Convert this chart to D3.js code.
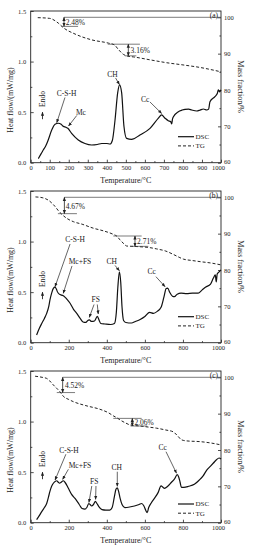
<!DOCTYPE html>
<html>
<head>
<meta charset="utf-8">
<script src="https://cdn.jsdelivr.net/npm/d3@7"></script>
<style>
body { margin: 0; background: #fff; }
svg text { font-family: "Liberation Serif", "Times New Roman", serif; fill: #222; }
</style>
</head>
<body>
<div id="chart"></div>
<script>
// ---- data ----
// tick values
var xTicksA = [0, 100, 200, 300, 400, 500, 600, 700, 800, 900, 1000];
var xTicksBC = [0, 200, 400, 600, 800, 1000];
var heatTicks = [0, 0.5, 1.0, 1.5];
var massTicks = [60, 70, 80, 90, 100];

// panel (a): [temperature, value]
var tgA = [[37,99.9],[100,99.7],[145,98.4],[170,97.2],[233,95.4],[320,93.8],[408,92.9],[440,92.4],[460,91.2],[487,89.8],[510,89.3],[540,89.1],[627,88.3],[715,87.5],[800,86.9],[890,86.2],[1000,85.0]];
var dscA = [[40,0.04],[55,0.09],[66,0.125],[80,0.17],[92,0.225],[110,0.32],[128,0.38],[145,0.39],[160,0.38],[171,0.36],[185,0.35],[195,0.34],[215,0.29],[250,0.225],[285,0.19],[320,0.175],[350,0.18],[373,0.19],[400,0.19],[417,0.185],[429,0.22],[443,0.42],[457,0.69],[467,0.77],[478,0.69],[490,0.36],[504,0.24],[530,0.23],[574,0.274],[627,0.34],[671,0.44],[688,0.472],[706,0.44],[723,0.415],[736,0.405],[741,0.383],[745,0.43],[750,0.455],[776,0.505],[795,0.52],[811,0.528],[830,0.53],[846,0.521],[872,0.511],[890,0.52],[907,0.531],[925,0.521],[935,0.53],[942,0.603],[968,0.653],[981,0.686],[986,0.72],[992,0.70],[1000,0.72]];

// panel (b)
var tgB = [[25,100.1],[60,99.9],[93,99.2],[119,98.0],[154,95.8],[190,94.2],[224,93.3],[270,92.6],[329,91.5],[380,90.8],[434,89.8],[455,89.2],[469,88.3],[490,87.2],[504,86.6],[540,86.5],[574,86.4],[620,86.2],[662,85.8],[710,85.2],[749,84.3],[780,83.5],[802,83.0],[850,82.6],[890,82.3],[950,81.9],[1000,81.4]];
var dscB = [[31,0.076],[45,0.14],[58,0.19],[72,0.24],[84,0.29],[95,0.36],[101,0.42],[110,0.49],[119,0.538],[128,0.55],[135,0.53],[140,0.505],[150,0.48],[163,0.47],[175,0.46],[190,0.43],[207,0.39],[225,0.33],[242,0.29],[260,0.24],[275,0.205],[290,0.2],[300,0.22],[308,0.225],[320,0.21],[335,0.215],[350,0.26],[360,0.22],[368,0.19],[390,0.185],[420,0.18],[440,0.19],[450,0.3],[458,0.55],[466,0.70],[473,0.6],[480,0.35],[488,0.22],[500,0.2],[530,0.195],[550,0.21],[575,0.23],[600,0.26],[625,0.30],[645,0.29],[665,0.31],[685,0.35],[700,0.45],[712,0.535],[720,0.54],[730,0.5],[745,0.46],[755,0.455],[770,0.48],[790,0.49],[820,0.485],[850,0.49],[880,0.49],[900,0.52],[920,0.55],[945,0.58],[960,0.64],[970,0.67],[975,0.60],[980,0.68],[990,0.7],[1000,0.72]];

// panel (c)
var tgC = [[23,100.3],[60,100.0],[84,99.7],[100,99.0],[119,97.9],[140,96.8],[154,96.0],[171,94.8],[200,93.9],[224,93.3],[290,92.2],[364,91.2],[410,90.2],[434,89.4],[455,88.8],[469,88.3],[500,87.4],[522,86.9],[574,86.6],[620,86.3],[662,86.0],[710,85.5],[749,85.0],[770,84.0],[793,82.8],[820,82.5],[890,82.3],[950,81.9],[1000,81.4]];
var dscC = [[31,0.03],[45,0.07],[58,0.11],[72,0.15],[84,0.19],[93,0.25],[101,0.31],[110,0.36],[119,0.39],[130,0.41],[137,0.415],[145,0.40],[152,0.39],[160,0.40],[171,0.415],[180,0.40],[198,0.34],[215,0.28],[233,0.24],[255,0.18],[270,0.14],[285,0.135],[295,0.15],[305,0.19],[312,0.18],[320,0.165],[330,0.18],[340,0.21],[348,0.19],[358,0.16],[375,0.13],[395,0.125],[415,0.125],[428,0.15],[440,0.26],[448,0.33],[455,0.345],[462,0.31],[470,0.24],[480,0.18],[495,0.15],[520,0.155],[545,0.165],[570,0.18],[583,0.19],[595,0.165],[605,0.12],[612,0.10],[620,0.15],[635,0.20],[650,0.24],[670,0.30],[685,0.365],[695,0.35],[703,0.34],[720,0.36],[740,0.40],[755,0.43],[770,0.475],[778,0.45],[785,0.40],[792,0.35],[805,0.35],[830,0.36],[860,0.38],[885,0.42],[905,0.46],[925,0.52],[945,0.56],[960,0.59],[975,0.62],[990,0.64],[1000,0.63]];

// peak labels: text, text position [T, H], arrows [[T1,H1,T2,H2],...]
var peaksA = [
    {text: "C-S-H", at: [189, 0.686], arrows: [[180, 0.645, 137, 0.396]]},
    {text: "Mc", at: [264, 0.495], arrows: [[242, 0.467, 199, 0.363]]},
    {text: "CH", at: [429, 0.877], arrows: [[446, 0.838, 466, 0.773]]},
    {text: "Cc", at: [601, 0.627], arrows: [[627, 0.60, 688, 0.487]]}
];
var peaksB = [
    {text: "C-S-H", at: [233, 1.023], arrows: [[207, 0.976, 128, 0.554]]},
    {text: "Mc+FS", at: [259, 0.80], arrows: [[217, 0.759, 171, 0.489]]},
    {text: "FS", at: [342, 0.429], arrows: [[333, 0.378, 308, 0.251], [350, 0.378, 355, 0.284]]},
    {text: "CH", at: [426, 0.808], arrows: [[443, 0.764, 466, 0.712]]},
    {text: "Cc", at: [636, 0.702], arrows: [[658, 0.653, 706, 0.554]]}
];
var peaksC = [
    {text: "C-S-H", at: [201, 0.719], arrows: [[185, 0.677, 128, 0.422]]},
    {text: "Mc+FS", at: [259, 0.568], arrows: [[198, 0.528, 168, 0.429]]},
    {text: "FS", at: [334, 0.406], arrows: [[321, 0.363, 306, 0.2], [343, 0.363, 341, 0.23]]},
    {text: "CH", at: [452, 0.548], arrows: [[455, 0.504, 455, 0.36]]},
    {text: "Cc", at: [694, 0.746], arrows: [[711, 0.702, 766, 0.49]]}
];

// mass loss steps: arrow temperature, upper/lower level, line extents, text position
var lossA = [
    {text: "2.48%", t: 175, hi: 100, lo: 97.5, hiLine: [175, 1000], loLine: [163, 249], at: [184, 98.6]},
    {text: "3.16%", t: 513, hi: 92.6, lo: 89.4, hiLine: [405, 574], loLine: [495, 555], at: [525, 90.9]}
];
var lossB = [
    {text: "4.67%", t: 177, hi: 100, lo: 95.5, hiLine: [177, 1000], loLine: [143, 243], at: [184, 97.6]},
    {text: "2.71%", t: 548, hi: 89.35, lo: 86.5, hiLine: [434, 583], loLine: [531, 618], at: [559, 87.8]}
];
var lossC = [
    {text: "4.52%", t: 168, hi: 100, lo: 95.8, hiLine: [168, 1000], loLine: [137, 233], at: [180, 97.9]},
    {text: "2.06%", t: 534, hi: 88.7, lo: 86.6, hiLine: [434, 583], loLine: [525, 612], at: [545, 87.7]}
];

// ---- layout ----
var width = 258;
var height = 550;
var left = 30.7, right = 221, plotH = 151.7;

var svg = d3.select("#chart").append("svg")
    .attr("width", width)
    .attr("height", height);

svg.append("defs").append("marker")
    .attr("id", "arr")
    .attr("viewBox", "0 0 10 10")
    .attr("refX", 9).attr("refY", 5)
    .attr("markerWidth", 4).attr("markerHeight", 4)
    .attr("markerUnits", "userSpaceOnUse")
    .attr("orient", "auto-start-reverse")
    .append("path")
    .attr("d", "M0,1L10,5L0,9Z")
    .attr("fill", "#222");

var panels = [
    {label: "(a)", top: 11, dsc: dscA, tg: tgA, xTicks: xTicksA, peaks: peaksA, loss: lossA, legend: 125.7},
    {label: "(b)", top: 191, dsc: dscB, tg: tgB, xTicks: xTicksBC, peaks: peaksB, loss: lossB, legend: 125.7},
    {label: "(c)", top: 371, dsc: dscC, tg: tgC, xTicks: xTicksBC, peaks: peaksC, loss: lossC, legend: 133}
];

function midpoints(arr) {
    var out = [];
    for (var i = 0; i < arr.length - 1; i++) out.push((arr[i] + arr[i + 1]) / 2);
    return out;
}

function styleAxis(g, size) {
    g.select(".domain").remove();
    g.selectAll("line").attr("stroke", "#222").attr("stroke-width", 0.8);
    g.selectAll("text").style("font-size", size + "px")
        .style("font-family", "'Liberation Serif', serif").attr("fill", "#222");
}

function drawPanel(p) {
    var top = p.top, bottom = p.top + plotH;
    var x = d3.scaleLinear().domain([0, 1000]).range([left, right]);
    var yL = d3.scaleLinear().domain([0, 1.5]).range([bottom, top]);
    var yR = d3.scaleLinear().domain([60, 100]).range([bottom, top + 6.3]);

    var g = svg.append("g");

    // axes with inward ticks
    g.append("g").attr("transform", "translate(0," + bottom + ")")
        .call(d3.axisBottom(x).tickValues(p.xTicks).tickFormat(d3.format("d"))
            .tickSizeInner(-3).tickSizeOuter(0).tickPadding(3))
        .call(styleAxis, 6.5)
        .selectAll(".tick text")
        .attr("dx", function(d) { return d === 1000 ? -3 : 0; }); // keep 1000 clear of the right axis label
    g.append("g").attr("transform", "translate(0," + bottom + ")")
        .call(d3.axisBottom(x).tickValues(midpoints(p.xTicks)).tickFormat("")
            .tickSizeInner(-1.6).tickSizeOuter(0))
        .call(styleAxis, 6.5);

    g.append("g").attr("transform", "translate(" + left + ",0)")
        .call(d3.axisLeft(yL).tickValues(heatTicks).tickFormat(d3.format(".1f"))
            .tickSizeInner(-3).tickSizeOuter(0).tickPadding(4.5))
        .call(styleAxis, 6.5);
    g.append("g").attr("transform", "translate(" + left + ",0)")
        .call(d3.axisLeft(yL).tickValues(midpoints(heatTicks)).tickFormat("")
            .tickSizeInner(-1.6).tickSizeOuter(0))
        .call(styleAxis, 6.5);

    g.append("g").attr("transform", "translate(" + right + ",0)")
        .call(d3.axisRight(yR).tickValues(massTicks).tickFormat(d3.format("d"))
            .tickSizeInner(-3).tickSizeOuter(0).tickPadding(3))
        .call(styleAxis, 6.5)
        .selectAll(".tick text")
        .attr("dy", function(d) { return d === 60 ? "0.1em" : "0.32em"; });
    g.append("g").attr("transform", "translate(" + right + ",0)")
        .call(d3.axisRight(yR).tickValues(midpoints(massTicks)).tickFormat("")
            .tickSizeInner(-1.6).tickSizeOuter(0))
        .call(styleAxis, 6.5);

    // frame
    g.append("rect")
        .attr("x", left).attr("y", top)
        .attr("width", right - left).attr("height", plotH)
        .attr("fill", "none").attr("stroke", "#222").attr("stroke-width", 0.9);

    // axis titles
    g.append("text")
        .attr("x", (left + right) / 2).attr("y", bottom + 20.5)
        .attr("text-anchor", "middle").style("font-size", "8px")
        .text("Temperature/\u00B0C");
    g.append("text")
        .attr("transform", "translate(13," + (top + 89) + ") rotate(-90)")
        .attr("text-anchor", "middle").style("font-size", "8px")
        .text("Heat flow/(mW/mg)");
    g.append("text")
        .attr("transform", "translate(237.5," + (top + 75.7) + ") rotate(90)")
        .attr("text-anchor", "middle").style("font-size", "8px")
        .text("Mass fraction/%");

    // curves
    var dscLine = d3.line()
        .x(function(d) { return x(d[0]); })
        .y(function(d) { return yL(d[1]); })
        .curve(d3.curveMonotoneX);
    var tgLine = d3.line()
        .x(function(d) { return x(d[0]); })
        .y(function(d) { return yR(d[1]); })
        .curve(d3.curveMonotoneX);

    g.append("path").datum(p.tg)
        .attr("d", tgLine)
        .attr("fill", "none").attr("stroke", "#222")
        .attr("stroke-width", 1).attr("stroke-dasharray", "3,2");
    g.append("path").datum(p.dsc)
        .attr("d", dscLine)
        .attr("fill", "none").attr("stroke", "#111")
        .attr("stroke-width", 1.2).attr("stroke-linejoin", "round");

    // mass loss steps
    p.loss.forEach(function(s) {
        g.append("line")
            .attr("x1", x(s.hiLine[0])).attr("x2", x(s.hiLine[1]))
            .attr("y1", yR(s.hi)).attr("y2", yR(s.hi))
            .attr("stroke", "#444").attr("stroke-width", 0.7);
        g.append("line")
            .attr("x1", x(s.loLine[0])).attr("x2", x(s.loLine[1]))
            .attr("y1", yR(s.lo)).attr("y2", yR(s.lo))
            .attr("stroke", "#444").attr("stroke-width", 0.7);
        g.append("line")
            .attr("x1", x(s.t)).attr("x2", x(s.t))
            .attr("y1", yR(s.hi)).attr("y2", yR(s.lo))
            .attr("stroke", "#222").attr("stroke-width", 0.8)
            .attr("marker-start", "url(#arr)").attr("marker-end", "url(#arr)");
        g.append("text")
            .attr("x", x(s.at[0])).attr("y", yR(s.at[1]))
            .attr("dy", "0.35em").style("font-size", "7.5px")
            .text(s.text);
    });

    // peak labels
    p.peaks.forEach(function(pk) {
        g.append("text")
            .attr("x", x(pk.at[0])).attr("y", yL(pk.at[1]))
            .attr("dy", "0.35em").attr("text-anchor", "middle")
            .style("font-size", "7.5px")
            .text(pk.text);
        pk.arrows.forEach(function(a) {
            g.append("line")
                .attr("x1", x(a[0])).attr("y1", yL(a[1]))
                .attr("x2", x(a[2])).attr("y2", yL(a[3]))
                .attr("stroke", "#222").attr("stroke-width", 0.7)
                .attr("marker-end", "url(#arr)");
        });
    });

    // Endo marker
    g.append("text")
        .attr("transform", "translate(" + (x(62) + 2.5) + "," + yL(0.63) + ") rotate(-90)")
        .attr("text-anchor", "middle").style("font-size", "7.5px")
        .text("Endo");
    g.append("line")
        .attr("x1", x(62)).attr("x2", x(62))
        .attr("y1", yL(0.43)).attr("y2", yL(0.50))
        .attr("stroke", "#222").attr("stroke-width", 0.9)
        .attr("marker-end", "url(#arr)");

    // panel label
    g.append("text")
        .attr("x", right - 3).attr("y", top + 4)
        .attr("dy", "0.35em").attr("text-anchor", "end")
        .style("font-size", "7.5px")
        .text(p.label);

    // legend
    var ly = top + p.legend;
    g.append("line").attr("x1", 178).attr("x2", 194).attr("y1", ly).attr("y2", ly)
        .attr("stroke", "#111").attr("stroke-width", 1.2);
    g.append("text").attr("x", 195.5).attr("y", ly).attr("dy", "0.35em")
        .style("font-size", "7px").text("DSC");
    g.append("line").attr("x1", 178).attr("x2", 194).attr("y1", ly + 9.2).attr("y2", ly + 9.2)
        .attr("stroke", "#222").attr("stroke-width", 1).attr("stroke-dasharray", "3,2");
    g.append("text").attr("x", 195.5).attr("y", ly + 9.2).attr("dy", "0.35em")
        .style("font-size", "7px").text("TG");
}

panels.forEach(drawPanel);
</script>
</body>
</html>
